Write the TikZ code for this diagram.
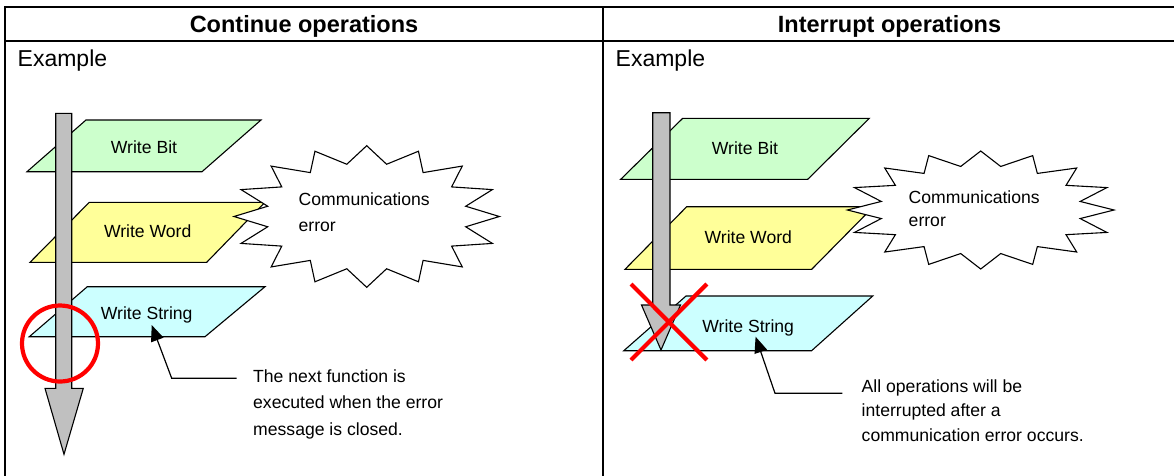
\documentclass[tikz,border=0pt]{standalone}
\usepackage{fontspec}
\setmainfont{Liberation Sans}
\usetikzlibrary{arrows.meta}
\definecolor{bitfill}{HTML}{CCFFCC}
\definecolor{wordfill}{HTML}{FFFF99}
\definecolor{strfill}{HTML}{CCFFFF}
\definecolor{bargray}{HTML}{C0C0C0}
\tikzset{
  tbl/.style={draw=black, line width=2.2pt},
  shp/.style={draw=black, line width=1.1pt, line join=miter},
  lbl/.style={font=\fontsize{17.6}{26.5}\selectfont, inner sep=0pt},
  hdr/.style={font=\bfseries\fontsize{23.5}{28}\selectfont, inner sep=0pt, anchor=base},
  exmp/.style={font=\fontsize{23}{28}\selectfont, inner sep=0pt, anchor=base west},
  note/.style={lbl, align=left, anchor=base west},
  redmark/.style={draw=red, line width=4.2pt},
  callout/.style={draw=black, line width=1.2pt, -{Triangle[length=16pt,width=13pt]}},
  errburst/.pic={
    \path[shp, fill=white] (0,-1) -- (0.15,-0.738) -- (0.39,-0.922) -- (0.425,-0.62)
      -- (0.72,-0.712) -- (0.64,-0.418) -- (0.947,-0.38) -- (0.746,-0.145) -- (1,0)
      -- (0.746,0.145) -- (0.947,0.38) -- (0.64,0.418) -- (0.72,0.712) -- (0.425,0.62)
      -- (0.39,0.922) -- (0.15,0.738) -- (0,1) -- (-0.15,0.738) -- (-0.39,0.922)
      -- (-0.425,0.62) -- (-0.72,0.712) -- (-0.64,0.418) -- (-0.947,0.38)
      -- (-0.746,0.145) -- (-1,0) -- (-0.746,-0.145) -- (-0.947,-0.38)
      -- (-0.64,-0.418) -- (-0.72,-0.712) -- (-0.425,-0.62) -- (-0.39,-0.922)
      -- (-0.15,-0.738) -- cycle;
  }
}
\begin{document}
\begin{tikzpicture}[x=1pt,y=-1pt]
\useasboundingbox (0,0) rectangle (1174,475);
\clip (0,0) rectangle (1174,475);
% table
\draw[tbl] (5,480) -- (5,7.3) -- (1180,7.3);
\draw[tbl] (5,40.7) -- (1180,40.7);
\draw[tbl] (602.7,7.3) -- (602.7,480);
\node[hdr] (hdrL) at (304,32.4) {Continue operations};
\node[hdr] (hdrR) at (889.5,32.4) {Interrupt operations};
\node[exmp] (exL) at (17.5,66.5) {Example};
\node[exmp] (exR) at (615.5,66.5) {Example};

% ---------- left panel ----------
\path[shp, fill=bitfill] (86,120) -- (261,120) -- (202,171.7) -- (27,171.7) -- cycle;
\node[lbl, anchor=base] (bitL) at (144,153) {Write Bit};
\path[shp, fill=wordfill] (89.3,202.3) -- (265,202.3) -- (206.7,262.3) -- (30,262.3) -- cycle;
\node[lbl, anchor=base] (wordL) at (147.7,237) {Write Word};
\path[shp, fill=strfill] (87.3,286.7) -- (265,286.7) -- (205,336.7) -- (29.3,336.7) -- cycle;
\node[lbl, anchor=base] (strL) at (146.7,319.6) {Write String};
\pic[xscale=132.7, yscale=70.8] at (366.7,216.5) {errburst};
\node[note] (errL) at (298.5,231.8) {Communications\\error};
\path[shp, fill=bargray] (55.7,113.3) -- (71.7,113.3) -- (71.7,388.3) -- (83.3,388.3)
  -- (64,454.3) -- (45,388.3) -- (55.7,388.3) -- cycle;
\draw[redmark] (60,343.5) circle[radius=38];
\coordinate (tipL) at (151.7,325);
\coordinate (bendL) at (171.7,378.3);
\coordinate (startL) at (236.7,378.3);
\draw[callout] (startL) -- (bendL) -- (tipL);
\node[note] (noteL) at (253,435.3) {The next function is\\executed when the error\\message is closed.};

% ---------- right panel ----------
\path[shp, fill=bitfill] (682.7,118.3) -- (869.3,118.3) -- (807.7,179.3) -- (620.7,179.3) -- cycle;
\node[lbl, anchor=base] (bitR) at (745,154.6) {Write Bit};
\path[shp, fill=wordfill] (686.7,206.7) -- (873.4,206.7) -- (811.7,269.3) -- (625,269.3) -- cycle;
\node[lbl, anchor=base] (wordR) at (748.3,243) {Write Word};
\path[shp, fill=strfill] (686,296) -- (872.7,296) -- (811.6,350.7) -- (623.8,350.7) -- cycle;
\node[lbl, anchor=base] (strR) at (748.2,332.3) {Write String};
\pic[xscale=133.3, yscale=59] at (980.7,210) {errburst};
\node[note, font=\fontsize{17.6}{23.3}\selectfont] (errR) at (908.5,226.3) {Communications\\error};
\path[shp, fill=bargray] (652.7,112.7) -- (670,112.7) -- (670,305) -- (680.5,305)
  -- (661,350) -- (641.5,305) -- (652.7,305) -- cycle;
\draw[redmark] (631,284) -- (706.9,360);
\draw[redmark] (706.9,284) -- (631,360);
\coordinate (tipR) at (755.6,336.7);
\coordinate (bendR) at (775,393.3);
\coordinate (startR) at (842.3,393.3);
\draw[callout] (startR) -- (bendR) -- (tipR);
\node[note, font=\fontsize{17.6}{24.5}\selectfont] (noteR) at (861.5,441.3) {All operations will be\\interrupted after a\\communication error occurs.};
\end{tikzpicture}
\end{document}
